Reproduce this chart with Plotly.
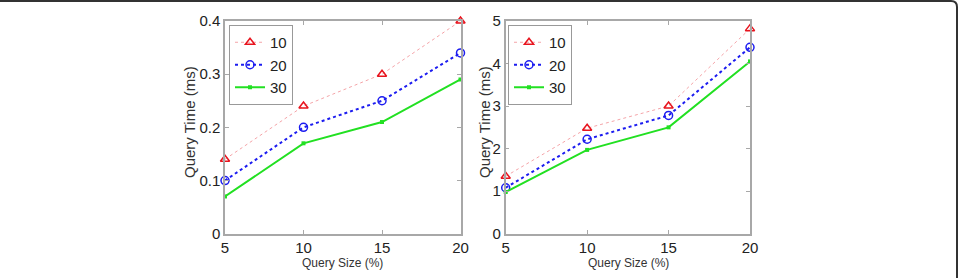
import plotly.graph_objects as go

x_vals = [5, 10, 15, 20]
series_names = ["10", "20", "30"]
left_10 = [0.14, 0.24, 0.30, 0.40]
left_20 = [0.10, 0.20, 0.25, 0.34]
left_30 = [0.07, 0.17, 0.21, 0.29]
right_10 = [1.35, 2.48, 3.00, 4.82]
right_20 = [1.08, 2.22, 2.78, 4.38]
right_30 = [0.98, 1.97, 2.50, 4.05]
left_yticks = [0, 0.1, 0.2, 0.3, 0.4]
left_yticktext = ["0", "0.1", "0.2", "0.3", "0.4"]
right_yticks = [0, 1, 2, 3, 4, 5]
x_title = "Query Size (%)"
y_title = "Query Time (ms)"

W, H = 962, 278
FONT = "Liberation Sans Narrow, Arial Narrow, Liberation Sans, Arial, sans-serif"

styles = [
    dict(line=dict(color="#f4a4a8", width=1, dash="dot"),
         marker=dict(symbol="triangle-up-open", color="#e8141e", size=8, line=dict(width=1.5, color="#e8141e"))),
    dict(line=dict(color="#1c1cf0", width=2, dash="dot"),
         marker=dict(symbol="circle-open", color="#1c1cf0", size=8, line=dict(width=1.5, color="#1c1cf0"))),
    dict(line=dict(color="#22e022", width=2, dash="solid"),
         marker=dict(symbol="square", color="#22e022", size=4)),
]

fig = go.Figure()
for i, (name, ys) in enumerate(zip(series_names, [left_10, left_20, left_30])):
    fig.add_trace(go.Scatter(x=x_vals, y=ys, name=name, mode="lines+markers", cliponaxis=False,
                             xaxis="x", yaxis="y", legend="legend", **styles[i]))
for i, (name, ys) in enumerate(zip(series_names, [right_10, right_20, right_30])):
    fig.add_trace(go.Scatter(x=x_vals, y=ys, name=name, mode="lines+markers", cliponaxis=False,
                             xaxis="x2", yaxis="y2", legend="legend2", **styles[i]))

def px_x(p):
    return p / W

def px_y(p):
    return 1 - p / H

axis_common = dict(showline=True, linecolor="#a8a8a8", linewidth=1.5, mirror="ticks",
                   ticks="inside", ticklen=4, tickcolor="#a8a8a8", showgrid=False, zeroline=False,
                   automargin=False,
                   tickfont=dict(family=FONT, size=15, color="#222"))

yd = [px_y(233.7), px_y(21)]
fig.update_layout(
    width=W, height=H, margin=dict(l=0, r=0, t=0, b=0, autoexpand=False),
    paper_bgcolor="white", plot_bgcolor="white",
    xaxis=dict(domain=[px_x(225), px_x(460.5)], range=[5, 20], tickvals=x_vals,
               anchor="y", **axis_common),
    yaxis=dict(domain=yd, range=[0, 0.4], tickvals=left_yticks, ticktext=left_yticktext,
               anchor="x", **axis_common),
    xaxis2=dict(domain=[px_x(505.7), px_x(750)], range=[5, 20], tickvals=x_vals,
                anchor="y2", **axis_common),
    yaxis2=dict(domain=yd, range=[0, 5], tickvals=right_yticks,
                anchor="x2", **axis_common),
    legend=dict(x=px_x(229), y=px_y(25), xanchor="left", yanchor="top",
                bordercolor="#999", borderwidth=1, bgcolor="white",
                font=dict(family=FONT, size=15, color="#222"), itemwidth=30,
                tracegroupgap=0),
    legend2=dict(x=px_x(508), y=px_y(25), xanchor="left", yanchor="top",
                 bordercolor="#999", borderwidth=1, bgcolor="white",
                 font=dict(family=FONT, size=15, color="#222"), itemwidth=30,
                 tracegroupgap=0),
    showlegend=True,
)

# axis titles
for xc in (342.7, 628):
    fig.add_annotation(text=x_title, xref="paper", yref="paper", x=px_x(xc), y=px_y(263),
                       xanchor="center", yanchor="middle", showarrow=False,
                       font=dict(family=FONT, size=12, color="#333"))
for xc in (190, 485):
    fig.add_annotation(text=y_title, xref="paper", yref="paper", x=px_x(xc), y=px_y(122),
                       xanchor="center", yanchor="middle", showarrow=False, textangle=-90,
                       font=dict(family=FONT, size=15, color="#333"))

# outer frame (top edge and right edge with rounded corner)
xr = px_x(957)
yt = px_y(1)
r_x = 6 / W
r_y = 6 / H
fig.add_shape(type="path", xref="paper", yref="paper",
              path=f"M 0,{yt} L {xr - r_x},{yt} Q {xr},{yt} {xr},{yt - r_y} L {xr},0",
              line=dict(color="#333", width=2))

fig.write_html("out.html")
